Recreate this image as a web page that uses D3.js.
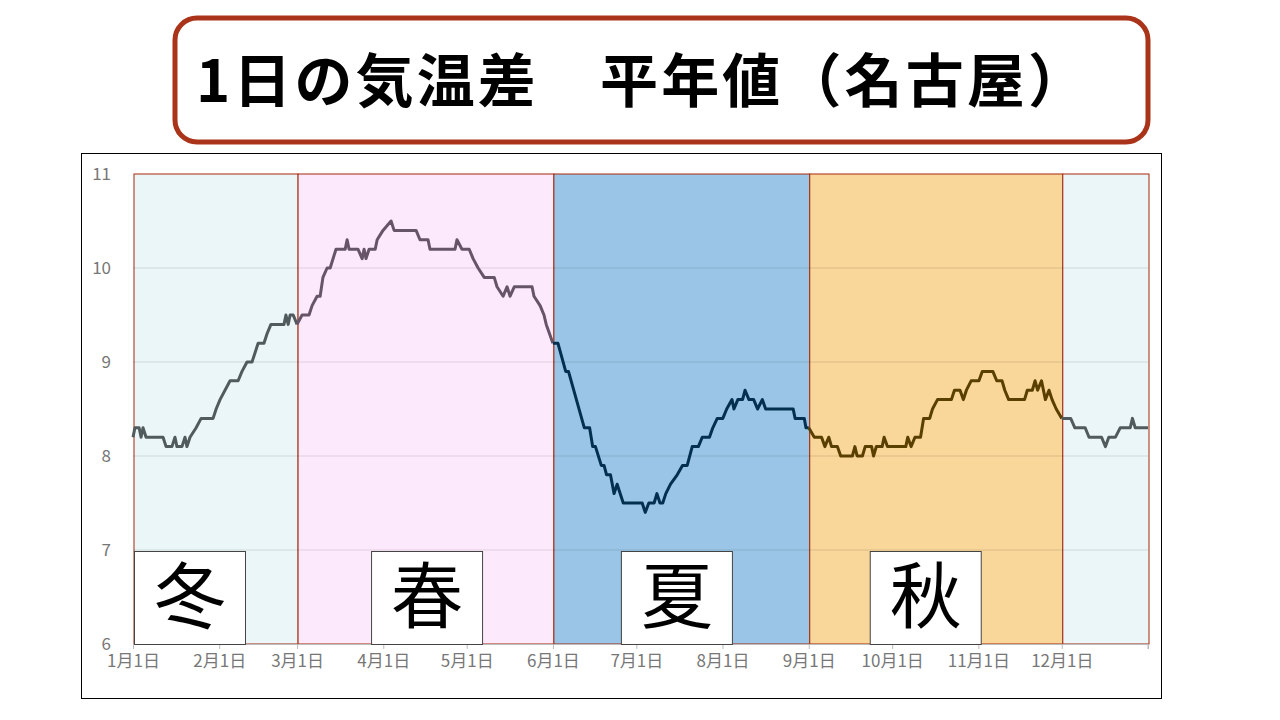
<!DOCTYPE html>
<html><head><meta charset="utf-8">
<script src="https://cdn.jsdelivr.net/npm/d3@7"></script>
<style>body{margin:0;background:#fff}svg{display:block}</style>
</head><body>
<svg id="c" width="1280" height="720"></svg>
<script>
const title = "1日の気温差　平年値（名古屋）";
const monthLabels = ["1月1日","2月1日","3月1日","4月1日","5月1日","6月1日","7月1日","8月1日","9月1日","10月1日","11月1日","12月1日"];
const monthDays = [0,31,59,90,120,151,181,212,243,273,304,334];
const yTicks = [6,7,8,9,10,11];
const seasons = [
  {name:"冬", start:0, end:59, fill:"#eaf6f8", line:"#515b5e", label:true},
  {name:"春", start:59, end:151, fill:"#fde9fc", line:"#665468", label:true},
  {name:"夏", start:151, end:243, fill:"#9bc5e6", line:"#04304f", label:true},
  {name:"秋", start:243, end:334, fill:"#f9d699", line:"#5a4000", label:true},
  {name:"冬", start:334, end:365, fill:"#eaf6f8", line:"#515b5e", label:false}
];
const days = [0,0.7,2.2,2.9,3.6,4.7,10.8,11.9,14.0,15.1,15.8,17.6,18.7,19.4,20.5,22.7,24.5,28.8,29.9,31.3,34.9,37.8,39.2,41.0,42.8,45.0,47.1,48.2,49.6,54.3,55.0,55.8,56.5,57.6,59.0,
60.8,63.3,64.4,66.2,67.3,68.3,69.8,70.9,73.0,76.3,77.0,77.7,80.9,82.4,83.1,83.8,84.9,87.1,87.8,89.9,92.8,93.9,101.8,103.2,106.1,106.8,115.8,116.5,118.3,120.9,122.3,124.1,126.3,129.9,130.9,133.1,134.5,135.6,137.1,143.5,144.2,146.4,147.8,148.6,151.0,
152.8,155.6,156.6,162.3,164.2,165.3,166.3,168.4,169.4,170.3,171.7,173.0,174.1,176.3,183.1,184.2,185.5,187.4,188.4,189.5,190.5,191.6,193.3,195.7,197.6,199.3,201.1,203.3,204.7,207.3,208.5,210.1,212.1,213.5,215.4,216.1,217.5,219.2,220.1,221.5,223.2,224.6,226.3,227.5,237.4,238.1,241.4,242.0,243.0,
245.0,247.6,248.8,250.2,251.2,253.3,254.5,258.7,259.6,260.4,262.3,263.3,265.6,266.3,267.3,269.4,270.1,271.3,277.9,278.6,279.8,281.2,283.2,284.3,286.5,287.5,289.3,294.3,295.4,297.4,298.6,299.7,301.4,304.2,305.4,309.2,310.6,312.5,313.5,314.9,320.6,321.6,323.4,324.4,325.3,326.7,328.1,329.4,330.5,332.0,334.0,
337.2,338.7,342.4,343.8,348.3,349.7,350.9,353.3,355.0,358.6,359.4,360.4,365];
const values = [8.2,8.3,8.3,8.2,8.3,8.2,8.2,8.1,8.1,8.2,8.1,8.1,8.2,8.1,8.2,8.3,8.4,8.4,8.5,8.6,8.8,8.8,8.9,9.0,9.0,9.2,9.2,9.3,9.4,9.4,9.5,9.4,9.5,9.5,9.4,
9.5,9.5,9.6,9.7,9.7,9.9,10.0,10.0,10.2,10.2,10.3,10.2,10.2,10.1,10.2,10.1,10.2,10.2,10.3,10.4,10.5,10.4,10.4,10.3,10.3,10.2,10.2,10.3,10.2,10.2,10.1,10.0,9.9,9.9,9.8,9.7,9.8,9.7,9.8,9.8,9.7,9.6,9.5,9.4,9.2,
9.2,8.9,8.9,8.3,8.3,8.1,8.1,7.9,7.9,7.8,7.8,7.6,7.7,7.5,7.5,7.4,7.5,7.5,7.6,7.5,7.5,7.6,7.7,7.8,7.9,7.9,8.1,8.1,8.2,8.2,8.3,8.4,8.4,8.5,8.6,8.5,8.6,8.6,8.7,8.6,8.6,8.5,8.6,8.5,8.5,8.4,8.4,8.3,8.3,
8.2,8.2,8.1,8.2,8.1,8.1,8.0,8.0,8.1,8.0,8.0,8.1,8.1,8.0,8.1,8.1,8.2,8.1,8.1,8.2,8.1,8.2,8.2,8.4,8.4,8.5,8.6,8.6,8.7,8.7,8.6,8.7,8.8,8.8,8.9,8.9,8.8,8.8,8.7,8.6,8.6,8.7,8.7,8.8,8.7,8.8,8.6,8.7,8.6,8.5,8.4,
8.4,8.3,8.3,8.2,8.2,8.1,8.2,8.2,8.3,8.3,8.4,8.3,8.3];

const svg = d3.select("#c");
const font = "'Noto Sans CJK JP','Noto Sans',sans-serif";

// title box
svg.append("rect").attr("x",175).attr("y",18).attr("width",973).attr("height",124).attr("rx",22)
  .attr("fill","#fff").attr("stroke","#a9341a").attr("stroke-width",5);
svg.append("text").attr("x",196).attr("y",102).attr("font-family",font).attr("font-weight","bold")
  .attr("font-size",58).attr("fill","#000").attr("textLength",890).attr("lengthAdjust","spacing").text(title);

// chart frame
svg.append("rect").attr("x",81.5).attr("y",153.5).attr("width",1080).attr("height",545)
  .attr("fill","#fff").attr("stroke","#000").attr("stroke-width",1);

const x = d3.scaleLinear().domain([0,365]).range([133,1148]);
const y = d3.scaleLinear().domain([6,11]).range([644,174]);

// bands
seasons.forEach(s=>{
  svg.append("rect").attr("x",x(s.start)+1).attr("y",y(11)).attr("width",x(s.end)-x(s.start)).attr("height",y(6)-y(11))
    .attr("fill",s.fill).attr("stroke","#a5290d").attr("stroke-width",1);
});
// gridlines
svg.append("g").selectAll("line").data(yTicks.slice(1,-1)).join("line")
  .attr("x1",x(0)).attr("x2",x(365)).attr("y1",d=>y(d)).attr("y2",d=>y(d))
  .attr("stroke","#000").attr("stroke-opacity",0.12);

// axes
const yAxis = d3.axisLeft(y).tickValues(yTicks).tickFormat(d3.format("d")).tickSize(0).tickPadding(22);
const gy = svg.append("g").attr("transform",`translate(${x(0)},0)`).call(yAxis);
gy.select(".domain").remove();
gy.selectAll("text").attr("font-family",font).attr("font-size",17).attr("fill","#777");

const xAxis = d3.axisBottom(x).tickValues(monthDays).tickFormat((d,i)=>monthLabels[i]).tickSize(5).tickPadding(6);
const gx = svg.append("g").attr("transform",`translate(0,${y(6)})`).call(xAxis);
gx.select(".domain").attr("stroke","#bbb");
gx.selectAll("line").attr("stroke","#bbb");
gx.selectAll("text").attr("font-family",font).attr("font-size",17).attr("fill","#777");
svg.append("line").attr("x1",x(365)).attr("x2",x(365)).attr("y1",y(6)).attr("y2",y(6)+5).attr("stroke","#bbb");

// line segments
const pts = days.map((d,i)=>[d,values[i]]);
const line = d3.line().x(d=>x(d[0])).y(d=>y(d[1]));
seasons.forEach(s=>{
  const seg = pts.filter(p=>p[0]>=s.start && p[0]<=s.end);
  svg.append("path").attr("d",line(seg)).attr("fill","none").attr("stroke",s.line)
    .attr("stroke-width",3).attr("stroke-linejoin","round");
});

// season labels
const labelOffsets = [57,130,124,117];
seasons.filter(s=>s.label).forEach((s,i)=>{
  const cx = x(s.start) + labelOffsets[i];
  svg.append("rect").attr("x",cx-55.5).attr("y",551.5).attr("width",111).attr("height",93)
    .attr("fill","#fff").attr("stroke","#444").attr("stroke-width",1);
  svg.append("text").attr("x",cx).attr("y",622).attr("text-anchor","middle")
    .attr("font-family",font).attr("font-size",72).attr("fill","#000").text(s.name);
});
</script>
</body></html>
